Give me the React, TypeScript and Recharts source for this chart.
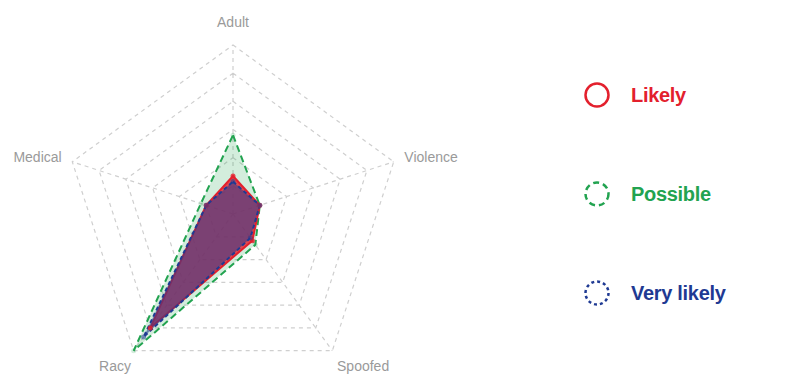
import { RadarChart, Radar, PolarGrid, PolarAngleAxis, PolarRadiusAxis, Legend } from "recharts";

const categories = ["Adult", "Violence", "Spoofed", "Racy", "Medical"];
const likely = [1.35, 1.0, 1.17, 5.0, 1.0];
const possible = [2.8, 1.0, 1.35, 6.0, 1.2];
const veryLikely = [1.15, 1.0, 1.05, 5.4, 1.0];

const RED = "#e3202d";
const GREEN = "#22a350";
const BLUE = "#1f3a93";

const CX = 233;
const CY = 214;

const data = categories.map((c, i) => ({
  category: c,
  likely: likely[i],
  possible: possible[i],
  veryLikely: veryLikely[i],
}));

const legendItems = [
  { label: "Likely", color: RED, dash: undefined },
  { label: "Possible", color: GREEN, dash: "6 4" },
  { label: "Very likely", color: BLUE, dash: "3 3" },
];

const AngleTick = ({ x, y, payload, textAnchor }: any) => {
  const uy = (y - CY) / Math.hypot(x - CX, y - CY);
  let dy = 9;
  if (uy < -0.9) dy = -15;
  else if (uy < 0) dy = -2;
  let dx = 0;
  if (uy < 0 && textAnchor === "end") dx = -3;
  if (uy < 0 && textAnchor === "start") dx = 3;
  if (uy > 0 && textAnchor === "end") dx = 2;
  return (
    <text
      x={x + dx}
      y={y + dy}
      textAnchor={textAnchor}
      dominantBaseline="central"
      fill="#9a9a9a"
      fontSize={14}
      fontFamily="Liberation Sans, Arial, sans-serif"
    >
      {payload.value}
    </text>
  );
};

const LegendContent = () => (
  <div style={{ width: 190 }}>
    {legendItems.map((item, i) => (
      <div key={item.label} style={{ display: "flex", alignItems: "center", height: 26, marginBottom: i < 2 ? 73 : 0 }}>
        <svg width={30} height={30} style={{ marginRight: 18 }}>
          <circle cx={14} cy={15} r={11.5} fill="none" stroke={item.color} strokeWidth={2.5} strokeDasharray={item.dash} />
        </svg>
        <span
          style={{
            color: item.color,
            fontFamily: "Liberation Sans, Arial, sans-serif",
            fontWeight: "bold",
            fontSize: 20,
            letterSpacing: -0.3,
          }}
        >
          {item.label}
        </span>
      </div>
    ))}
  </div>
);

export default function App() {
  return (
    <div style={{ position: "absolute", left: 0, top: 0, width: 800, height: 386, background: "#fff" }}>
      <RadarChart
        width={800}
        height={386}
        data={data}
        cx={CX}
        cy={CY}
        outerRadius={169}
        margin={{ top: 0, right: 0, bottom: 0, left: 0 }}
      >
        <PolarGrid gridType="polygon" stroke="#cfcfcf" strokeDasharray="4 4" strokeWidth={1.2} />
        <PolarAngleAxis dataKey="category" tick={<AngleTick />} axisLine={false} tickLine={false} />
        <PolarRadiusAxis domain={[0, 6]} tickCount={7} axisLine={false} tick={false} />
        <Radar
          dataKey="possible"
          stroke={GREEN}
          strokeWidth={2}
          strokeDasharray="7 4"
          fill={GREEN}
          fillOpacity={0.2}
          dot={{ r: 2.5, fill: GREEN, strokeWidth: 0 }}
          isAnimationActive={false}
        />
        <Radar
          dataKey="likely"
          stroke={RED}
          strokeWidth={2}
          fill={RED}
          fillOpacity={0.8}
          dot={{ r: 2.5, fill: RED, strokeWidth: 0 }}
          isAnimationActive={false}
        />
        <Radar
          dataKey="veryLikely"
          stroke={BLUE}
          strokeWidth={2}
          strokeDasharray="4 3"
          fill={BLUE}
          fillOpacity={0.52}
          dot={{ r: 2.5, fill: BLUE, strokeWidth: 0 }}
          isAnimationActive={false}
        />
        <Legend
          layout="vertical"
          align="right"
          verticalAlign="top"
          content={<LegendContent />}
          wrapperStyle={{ position: "absolute", left: 583, top: 82, width: 190 }}
        />
      </RadarChart>
    </div>
  );
}
